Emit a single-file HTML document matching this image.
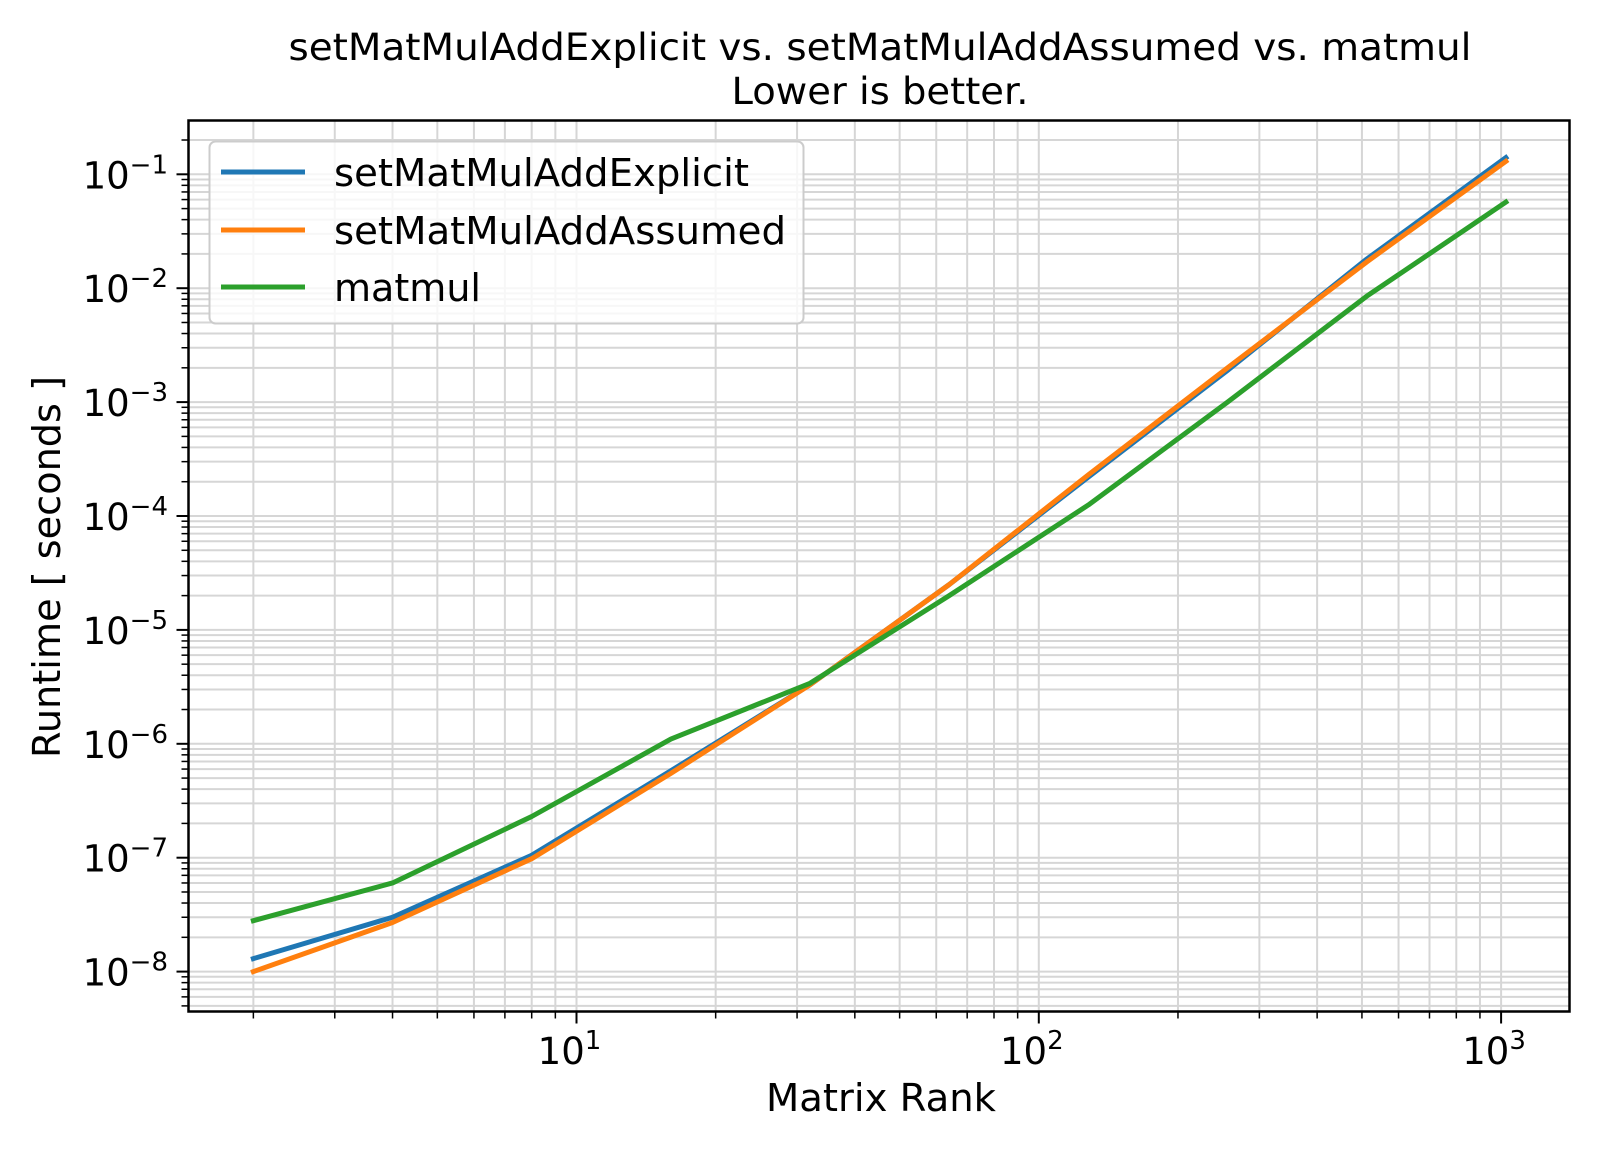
<!DOCTYPE html>
<html><head><meta charset="utf-8"><style>
html,body{margin:0;padding:0;background:#fff;}
svg{display:block;font-family:"DejaVu Sans","Liberation Sans",sans-serif;}
</style></head><body>
<svg id="chart" width="1600" height="1150" viewBox="0 0 1600 1150">
<rect x="0" y="0" width="1600" height="1150" fill="#fff"/>
<g id="grid"></g>
<g id="series"></g>
<rect x="188.5" y="120.5" width="1381" height="891" fill="none" stroke="#000" stroke-width="2.5"/>
<g id="ticks"></g>
<text x="880" y="60" font-size="37" text-anchor="middle" textLength="1183" lengthAdjust="spacingAndGlyphs">setMatMulAddExplicit vs. setMatMulAddAssumed vs. matmul</text>
<text x="880" y="104" font-size="37" text-anchor="middle" textLength="297" lengthAdjust="spacingAndGlyphs">Lower is better.</text>
<text x="881" y="1111" font-size="38" text-anchor="middle" textLength="230" lengthAdjust="spacingAndGlyphs">Matrix Rank</text>
<text x="60" y="567" font-size="38" text-anchor="middle" transform="rotate(-90 60 567)" textLength="382" lengthAdjust="spacingAndGlyphs">Runtime [ seconds ]</text>
<g>
<rect x="209.5" y="141.5" width="594" height="182" rx="6" fill="#fff" fill-opacity="0.8" stroke="#ccc" stroke-width="2"/>
<line x1="221" y1="172" x2="305" y2="172" stroke="#1f77b4" stroke-width="5"/>
<text x="334" y="186" font-size="38" textLength="415" lengthAdjust="spacingAndGlyphs">setMatMulAddExplicit</text>
<line x1="221" y1="230" x2="305" y2="230" stroke="#ff7f0e" stroke-width="5"/>
<text x="334" y="244" font-size="38" textLength="452" lengthAdjust="spacingAndGlyphs">setMatMulAddAssumed</text>
<line x1="221" y1="287" x2="305" y2="287" stroke="#2ca02c" stroke-width="5"/>
<text x="334" y="301" font-size="38" textLength="147" lengthAdjust="spacingAndGlyphs">matmul</text>
</g>
</svg>
<script>
const ranks = [2,4,8,16,32,64,128,256,512,1024];
const explicitVals = [1.3e-8,3.0e-8,1.05e-7,5.8e-7,3.3e-6,2.5e-5,2.2e-4,1.9e-3,1.8e-2,1.4e-1];
const assumedVals = [1.0e-8,2.7e-8,9.8e-8,5.5e-7,3.3e-6,2.5e-5,2.3e-4,2.0e-3,1.7e-2,1.3e-1];
const matmulVals = [2.8e-8,6.0e-8,2.3e-7,1.1e-6,3.4e-6,2.0e-5,1.25e-4,1.0e-3,8.5e-3,5.7e-2];
const xTickExps = [1,2,3];
const yTickExps = [-8,-7,-6,-5,-4,-3,-2,-1];

const NS="http://www.w3.org/2000/svg";
const L=188.5,R=1569.5,T=120.5,B=1011.5;
const xDec=462.3, x10=576.5;
const yDec=113.9, yTop=174.3;
function X(v){return x10+(Math.log10(v)-1)*xDec;}
function Y(v){return yTop-(Math.log10(v)+1)*yDec;}
function mk(tag,attrs,parent){const e=document.createElementNS(NS,tag);for(const k in attrs)e.setAttribute(k,attrs[k]);parent.appendChild(e);return e;}
const grid=document.getElementById('grid'),ticks=document.getElementById('ticks'),ser=document.getElementById('series');

for(let d=0;d<=3;d++){for(let m=1;m<10;m++){const v=m*Math.pow(10,d);const x=X(v);if(x<L||x>R)continue;
 const g=mk('line',{x1:x,x2:x,y1:T,y2:B,stroke:'#d6d6d6','stroke-width':2},grid);
 
 
 const t=mk('line',{x1:x,x2:x,y1:B,y2:B+(m===1?12:7),stroke:'#000','stroke-width':m===1?2:1.5},ticks);
 
 
}}
for(let d=-9;d<=0;d++){for(let m=1;m<10;m++){const v=m*Math.pow(10,d);const y=Y(v);if(y<T||y>B)continue;
 const g=mk('line',{x1:L,x2:R,y1:y,y2:y,stroke:'#d6d6d6','stroke-width':2},grid);
 
 
 const t=mk('line',{x1:L-(m===1?12:7),x2:L,y1:y,y2:y,stroke:'#000','stroke-width':m===1?2:1.5},ticks);
 
 
}}
xTickExps.forEach(e=>{const x=X(Math.pow(10,e));
 const t=mk('text',{x:x-7,y:1064,'font-size':37,'text-anchor':'middle'},ticks);
 
 
 t.textContent='10';
 const s=mk('tspan',{dy:-15,'font-size':26},t);s.textContent=String(e);
});
yTickExps.forEach(e=>{const y=Y(Math.pow(10,e));
 const t=mk('text',{x:168,y:y+14,'font-size':37,'text-anchor':'end'},ticks);
 
 
 const a=mk('tspan',{},t);a.textContent='10';
 const s=mk('tspan',{dy:-15,'font-size':26},t);s.textContent='\u2212'+Math.abs(e);
});
function series(vals,color,name){
 const p=mk('polyline',{points:ranks.map((r,i)=>X(r)+','+Y(vals[i])).join(' '),fill:'none',stroke:color,'stroke-width':5,'stroke-linejoin':'round','stroke-linecap':'square'},ser);
 
 
}
series(explicitVals,'#1f77b4','line-explicit');
series(assumedVals,'#ff7f0e','line-assumed');
series(matmulVals,'#2ca02c','line-matmul');
</script>
</body></html>
